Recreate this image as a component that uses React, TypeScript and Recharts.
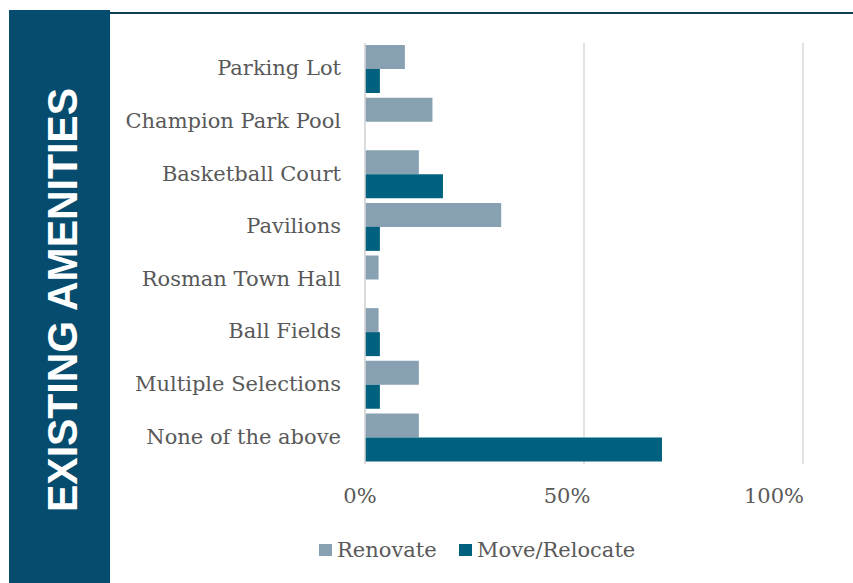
import React from "react";
import { BarChart, Bar, XAxis, YAxis, CartesianGrid, Legend } from "recharts";

const categories = [
  "Parking Lot",
  "Champion Park Pool",
  "Basketball Court",
  "Pavilions",
  "Rosman Town Hall",
  "Ball Fields",
  "Multiple Selections",
  "None of the above",
];
const renovate = [9.1, 15.4, 12.3, 31.1, 3.1, 3.1, 12.3, 12.3];
const moveRelocate = [3.4, 0, 17.8, 3.4, 0, 3.4, 3.4, 67.8];
const xTicks = [0, 50, 100];
const seriesNames = ["Renovate", "Move/Relocate"];

const data = categories.map((name, i) => ({
  name,
  renovate: renovate[i],
  move: moveRelocate[i],
}));

const RENOVATE_COLOR = "#87a1b2";
const MOVE_COLOR = "#00617f";
const TEXT_COLOR = "#595959";
const FONT = "'DejaVu Serif', serif";
const FS = 21;

const XTick = (props: any) => {
  const { x, y, payload } = props;
  const shift = -5 - 0.24 * payload.value;
  return (
    <text
      x={x + shift}
      y={y}
      dy="0.71em"
      textAnchor="middle"
      fill={TEXT_COLOR}
      fontSize={FS}
      fontFamily={FONT}
    >
      {payload.value + "%"}
    </text>
  );
};

const YTick = (props: any) => {
  const { x, y, payload } = props;
  return (
    <text
      x={x}
      y={y - 1.5}
      dy="0.355em"
      textAnchor="end"
      fill={TEXT_COLOR}
      fontSize={FS}
      fontFamily={FONT}
    >
      {payload.value}
    </text>
  );
};

const LegendContent = () => {
  const colors = [RENOVATE_COLOR, MOVE_COLOR];
  const lefts = [319, 459];
  return (
    <div style={{ position: "relative", width: 853, height: 26 }}>
      {seriesNames.map((n, i) => (
        <div
          key={n}
          style={{
            position: "absolute",
            left: lefts[i],
            top: 0,
            height: 26,
            display: "flex",
            alignItems: "center",
            fontFamily: FONT,
            fontSize: FS,
            color: TEXT_COLOR,
            whiteSpace: "nowrap",
          }}
        >
          <span
            style={{
              display: "inline-block",
              width: 12.5,
              height: 12.5,
              background: colors[i],
              marginRight: 5.5,
            }}
          />
          <span>{n}</span>
        </div>
      ))}
    </div>
  );
};

export default function App() {
  return (
    <div
      style={{
        position: "absolute",
        left: 0,
        top: 0,
        width: 853,
        height: 583,
        background: "#ffffff",
        overflow: "hidden",
      }}
    >
      <div
        style={{
          position: "absolute",
          left: 108,
          top: 11.5,
          width: 745,
          height: 2.5,
          background: "#113f58",
        }}
      />
      <div
        style={{
          position: "absolute",
          left: 9,
          top: 10,
          width: 101,
          height: 573,
          background: "#054c6e",
        }}
      >
        <svg width={101} height={573} style={{ display: "block" }}>
          <text
            transform="translate(67.7,290) rotate(-90)"
            textAnchor="middle"
            fill="#ffffff"
            fontFamily="'Liberation Sans', Arial, sans-serif"
            fontWeight="bold"
            fontSize={43}
            textLength={424}
            lengthAdjust="spacingAndGlyphs"
          >
            EXISTING AMENITIES
          </text>
        </svg>
      </div>
      <div style={{ position: "absolute", left: 0, top: 0 }}>
        <BarChart
          width={853}
          height={583}
          data={data}
          layout="vertical"
          margin={{ top: 43, right: 50, bottom: 89, left: 0 }}
          barCategoryGap={2}
          barGap={0}
        >
          <CartesianGrid
            horizontal={false}
            vertical={true}
            stroke="#d9d9d9"
            strokeWidth={1.5}
          />
          <XAxis
            type="number"
            domain={[0, 100]}
            ticks={xTicks}
            axisLine={false}
            tickLine={false}
            tickSize={0}
            tickMargin={24}
            height={30}
            tick={<XTick />}
            interval={0}
          />
          <YAxis
            type="category"
            dataKey="name"
            width={365}
            axisLine={{ stroke: "#d9d9d9", strokeWidth: 1.5 }}
            tickLine={false}
            tickSize={0}
            tickMargin={24}
            interval={0}
            tick={<YTick />}
          />
          <Legend
            layout="horizontal"
            align="center"
            verticalAlign="middle"
            wrapperStyle={{ left: 0, top: 537, width: 853 }}
            content={<LegendContent />}
          />
          <Bar
            dataKey="renovate"
            name="Renovate"
            fill={RENOVATE_COLOR}
            isAnimationActive={false}
          />
          <Bar
            dataKey="move"
            name="Move/Relocate"
            fill={MOVE_COLOR}
            isAnimationActive={false}
          />
        </BarChart>
      </div>
    </div>
  );
}
